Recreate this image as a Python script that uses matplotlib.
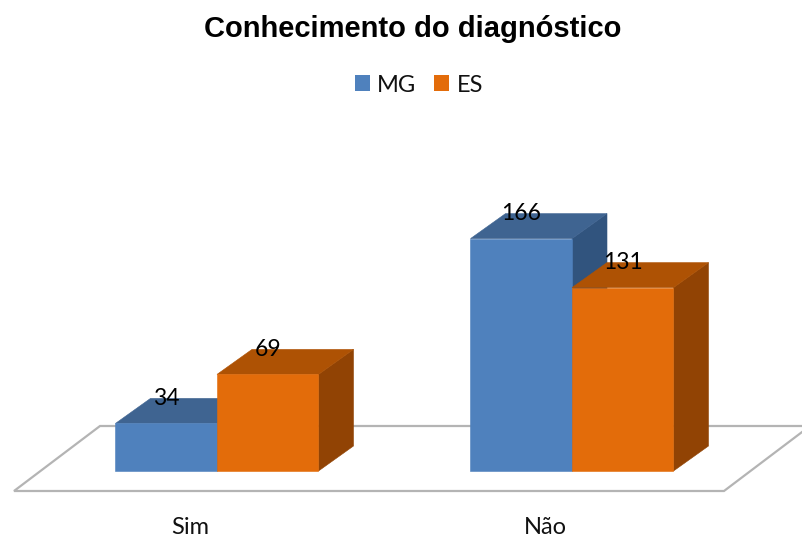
# -*- coding: utf-8 -*-
import matplotlib
matplotlib.use('Agg')
import matplotlib.pyplot as plt
from matplotlib.patches import Patch, Polygon

categories = ['Sim', 'Não']
series_names = ['MG', 'ES']
mg_values = [34, 166]
es_values = [69, 131]

front_colors = ['#4F81BD', '#E36C0A']
top_colors = ['#3F6491', '#AE5204']
side_colors = ['#31547E', '#914304']

W, H = 802, 537
PX_PER_UNIT = 1.4   # bar height in pixels for one unit
PX_PER_CAT = 355.0  # distance between the two groups
BASE_PX = 471       # pixel row of value 0
AXES_BOTTOM_PX = 510

fig = plt.figure(figsize=(W / 100, H / 100), dpi=100)
ax = fig.add_axes([0, 1 - AXES_BOTTOM_PX / H, 1, AXES_BOTTOM_PX / H])
ax.set_xlim(-217 / PX_PER_CAT, (W - 217) / PX_PER_CAT)
ax.set_ylim((BASE_PX - AXES_BOTTOM_PX) / PX_PER_UNIT, BASE_PX / PX_PER_UNIT)
for s in ax.spines.values():
    s.set_visible(False)

bar_w = 101.5 / PX_PER_CAT
depth_x = 35 / PX_PER_CAT
depth_y = 25 / PX_PER_UNIT

# floor
fx = lambda px: (px - 217) / PX_PER_CAT
fy = lambda px: (BASE_PX - px) / PX_PER_UNIT
floor = Polygon([(fx(14), fy(491)), (fx(724), fy(491)), (fx(810), fy(426)), (fx(100), fy(426))],
                closed=True, facecolor='white', edgecolor='#B4B4B4', linewidth=1.6, zorder=1)
ax.add_patch(floor)


def draw_bar(x_left, value, idx, z):
    x_right = x_left + bar_w
    top = Polygon([(x_left, value), (x_right, value), (x_right + depth_x, value + depth_y),
                   (x_left + depth_x, value + depth_y)], facecolor=top_colors[idx],
                  edgecolor=top_colors[idx], linewidth=0.4, zorder=z)
    side = Polygon([(x_right, 0), (x_right + depth_x, depth_y), (x_right + depth_x, value + depth_y),
                    (x_right, value)], facecolor=side_colors[idx],
                   edgecolor=side_colors[idx], linewidth=0.4, zorder=z)
    ax.add_patch(side)
    ax.add_patch(top)
    ax.bar(x_left, value, bar_w, align='edge', color=front_colors[idx], edgecolor=front_colors[idx],
           linewidth=0.4, zorder=z + 0.5)
    ax.text(x_left + bar_w / 2, value + 25 / PX_PER_UNIT, str(value), ha='center', va='center',
            fontsize=16.5, family='Lato', color='black', zorder=10)


for i in range(len(categories)):
    draw_bar(i - bar_w, mg_values[i], 0, 2 + i * 2)
    draw_bar(i, es_values[i], 1, 3 + i * 2)

ax.set_yticks([])
ax.set_xticks([i - 27 / PX_PER_CAT for i in range(len(categories))])
ax.set_xticklabels(categories, fontsize=17, family='Lato', color='#111111')
ax.tick_params(axis='x', length=0, pad=5)

fig.text(413 / W, 1 - 29 / H, 'Conhecimento do diagnóstico', ha='center', va='center',
         fontsize=21, fontweight='bold', family='Liberation Sans', color='black')

handles = [Patch(facecolor=c, edgecolor='none') for c in front_colors]
fig.legend(handles, series_names, loc='center', bbox_to_anchor=(419 / W, 1 - 85 / H), ncol=2, frameon=False,
           prop={'family': 'Lato', 'size': 17}, handlelength=0.635, handleheight=0.635,
           handletextpad=0.3, columnspacing=0.76, labelcolor='#111111')

fig.savefig('out.png', dpi=100)
